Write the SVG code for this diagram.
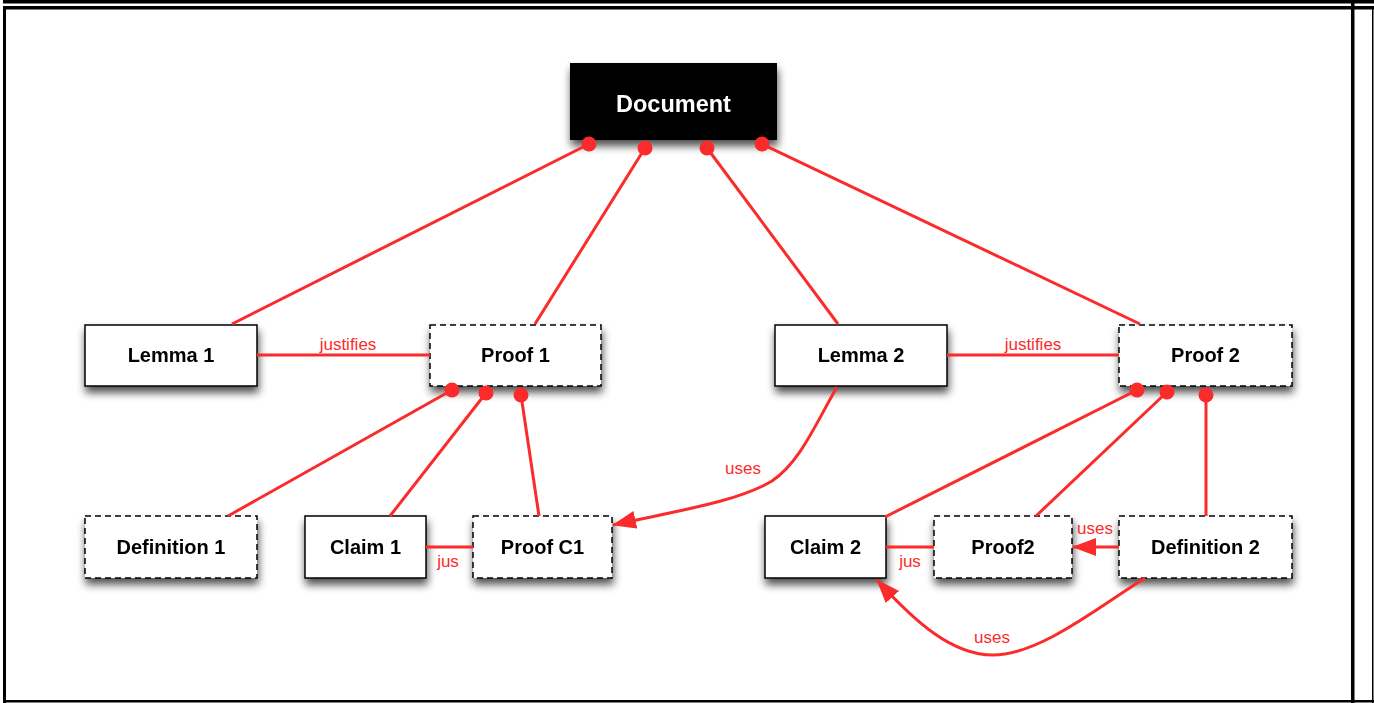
<svg xmlns="http://www.w3.org/2000/svg" width="1374" height="703" viewBox="0 0 1374 703">
<defs>
<filter id="sh" x="-20%" y="-30%" width="140%" height="180%">
<feGaussianBlur in="SourceAlpha" stdDeviation="4.5"/>
<feOffset dx="1" dy="6" result="b"/>
<feComponentTransfer><feFuncA type="linear" slope="0.7"/></feComponentTransfer>
<feMerge><feMergeNode/><feMergeNode in="SourceGraphic"/></feMerge>
</filter>
<marker id="ah" markerUnits="userSpaceOnUse" markerWidth="26" markerHeight="20" refX="23" refY="9" orient="auto">
<path d="M0,0 L24,9 L0,18 Z" fill="#fb2b2b"/>
</marker>
<style>
.box{fill:#fff;stroke:#000;stroke-width:1.5}
.dash{fill:#fff;stroke:#000;stroke-width:1.5;stroke-dasharray:6 4}
.lbl{font-family:"Liberation Sans",Arial,sans-serif;font-weight:bold;font-size:20px;text-anchor:middle;fill:#000}
.rl{font-family:"Liberation Sans",Arial,sans-serif;font-size:17px;text-anchor:middle;fill:#fb2b2b}
.c{fill:none;stroke:#fb2b2b;stroke-width:3}
.dot{fill:#fb2b2b}
</style>
</defs>
<rect width="1374" height="703" fill="#fff"/>
<g id="frame" fill="#000">
<rect x="3" y="0" width="1371" height="3.5"/>
<rect x="3" y="6" width="1371" height="3.5"/>
<rect x="3" y="6" width="3" height="697"/>
<rect x="1351" y="0" width="3.5" height="703"/>
<rect x="1372" y="6" width="1.5" height="697"/>
<rect x="3" y="700" width="1371" height="2.5"/>
</g>
<g id="document" filter="url(#sh)">
<rect x="570" y="63" width="207" height="77" fill="#000"/>
<text x="673.5" y="111.5" class="lbl" style="font-size:23.5px;fill:#fff">Document</text>
</g>
<g id="lemma1" filter="url(#sh)"><rect class="box" x="85" y="325" width="172" height="61"/><text class="lbl" x="171" y="362">Lemma 1</text></g>
<g id="proof1" filter="url(#sh)"><rect class="dash" x="430" y="325" width="171" height="61"/><text class="lbl" x="515.5" y="362">Proof 1</text></g>
<g id="lemma2" filter="url(#sh)"><rect class="box" x="775" y="325" width="172" height="61"/><text class="lbl" x="861" y="362">Lemma 2</text></g>
<g id="proof2" filter="url(#sh)"><rect class="dash" x="1119" y="325" width="173" height="61"/><text class="lbl" x="1205.5" y="362">Proof 2</text></g>
<g id="definition1" filter="url(#sh)"><rect class="dash" x="85" y="516" width="172" height="62"/><text class="lbl" x="171" y="554">Definition 1</text></g>
<g id="claim1" filter="url(#sh)"><rect class="box" x="305" y="516" width="121" height="62"/><text class="lbl" x="365.5" y="554">Claim 1</text></g>
<g id="proofc1" filter="url(#sh)"><rect class="dash" x="473" y="516" width="139" height="62"/><text class="lbl" x="542.5" y="554">Proof C1</text></g>
<g id="claim2" filter="url(#sh)"><rect class="box" x="765" y="516" width="121" height="62"/><text class="lbl" x="825.5" y="554">Claim 2</text></g>
<g id="proof2b" filter="url(#sh)"><rect class="dash" x="934" y="516" width="138" height="62"/><text class="lbl" x="1003" y="554">Proof2</text></g>
<g id="definition2" filter="url(#sh)"><rect class="dash" x="1119" y="516" width="173" height="62"/><text class="lbl" x="1205.5" y="554">Definition 2</text></g>
<g id="connectors">
<path class="c" d="M589,144 L232,324"/>
<path class="c" d="M645,148 L535,324"/>
<path class="c" d="M707,148 L838,324"/>
<path class="c" d="M762,144 L1140,324"/>
<path class="c" d="M452,390 L228,516"/>
<path class="c" d="M486,393 L390,516"/>
<path class="c" d="M521,395 L539,516"/>
<path class="c" d="M257,355 L430,355"/>
<path class="c" d="M426,547 L473,547"/>
<path class="c" d="M947,355 L1119,355"/>
<path class="c" d="M1137,390 L885,517"/>
<path class="c" d="M1167,392 L1036,516"/>
<path class="c" d="M1206,395 L1206,516"/>
<path class="c" d="M886,547 L934,547"/>
<path class="c" d="M1119,547 L1073,547" marker-end="url(#ah)"/>
<path class="c" d="M837,387 C815,425 800,462 772,481 C735,503 670,512 613,525" marker-end="url(#ah)"/>
<path class="c" d="M1145,578 C1100,606 1040,655 993,655 C952,655 915,622 877,580" marker-end="url(#ah)"/>
<circle class="dot" cx="589" cy="144" r="7.5"/>
<circle class="dot" cx="645" cy="148" r="7.5"/>
<circle class="dot" cx="707" cy="148" r="7.5"/>
<circle class="dot" cx="762" cy="144" r="7.5"/>
<circle class="dot" cx="452" cy="390" r="7.5"/>
<circle class="dot" cx="486" cy="393" r="7.5"/>
<circle class="dot" cx="521" cy="395" r="7.5"/>
<circle class="dot" cx="1137" cy="390" r="7.5"/>
<circle class="dot" cx="1167" cy="392" r="7.5"/>
<circle class="dot" cx="1206" cy="395" r="7.5"/>
<text class="rl" x="348" y="350">justifies</text>
<text class="rl" x="1033" y="350">justifies</text>
<text class="rl" x="448" y="567">jus</text>
<text class="rl" x="910" y="567">jus</text>
<text class="rl" x="743" y="474">uses</text>
<text class="rl" x="1095" y="534">uses</text>
<text class="rl" x="992" y="643">uses</text>
</g>
</svg>
